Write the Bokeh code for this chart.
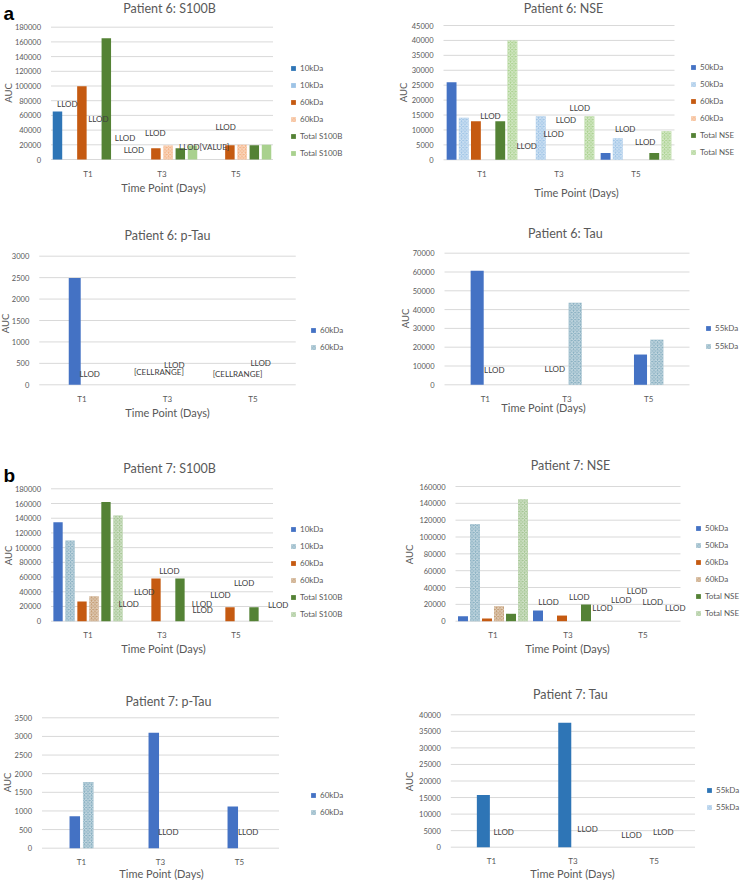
import math
from bokeh.plotting import figure
from bokeh.models import (ColumnDataSource, Range1d, FixedTicker, Legend, LegendItem,
                          LabelSet, Label, NumeralTickFormatter)
from bokeh.layouts import column, row
from bokeh.core.properties import value
from bokeh.embed import file_html
from bokeh.resources import INLINE

FONT = "Lato"
timepoints = ["T1", "T3", "T5"]

# ---------------- DATA ----------------
# Patient 6: S100B
p6_s100b_series = ["10kDa", "10kDa", "60kDa", "60kDa", "Total S100B", "Total S100B"]
p6_s100b_values = [[65300, 0, 0], [0, 0, 0], [99700, 15400, 19500],
                   [0, 19000, 20000], [165000, 15400, 19500], [0, 19000, 20000]]
p6_s100b_lab_text = ["LLOD", "LLOD", "LLOD", "LLOD", "LLOD", "LLOD[VALUE]", "LLOD"]
p6_s100b_lab_x = [-0.28, 0.14, 0.50, 0.62, 0.91, 1.57, 1.86]
p6_s100b_lab_y = [75800, 55300, 29000, 13200, 35800, 16700, 44000]

# Patient 6: NSE
p6_nse_series = ["50kDa", "50kDa", "60kDa", "60kDa", "Total NSE", "Total NSE"]
p6_nse_values = [[26000, 0, 2300], [14100, 14600, 7200], [12900, 0, 0],
                 [0, 0, 0], [12900, 0, 2300], [40000, 14600, 9600]]
p6_nse_lab_text = ["LLOD"] * 7
p6_nse_lab_x = [0.11, 0.58, 0.93, 1.09, 1.27, 1.86, 2.12]
p6_nse_lab_y = [14800, 4700, 8700, 13200, 17300, 10200, 6100]

# Patient 6: p-Tau
p6_ptau_series = ["60kDa", "60kDa"]
p6_ptau_values = [[2490, 0, 0], [0, 0, 0]]
p6_ptau_lab_text = ["LLOD", "[CELLRANGE]", "LLOD", "[CELLRANGE]", "LLOD"]
p6_ptau_lab_x = [0.09, 0.90, 1.08, 1.82, 2.09]
p6_ptau_lab_y = [256, 310, 457, 256, 513]

# Patient 6: Tau
p6_tau_series = ["55kDa", "55kDa"]
p6_tau_values = [[60700, 0, 16100], [0, 43600, 24000]]
p6_tau_lab_text = ["LLOD", "LLOD"]
p6_tau_lab_x = [0.11, 0.85]
p6_tau_lab_y = [8000, 8500]

# Patient 7: S100B
p7_s100b_series = ["10kDa", "10kDa", "60kDa", "60kDa", "Total S100B", "Total S100B"]
p7_s100b_values = [[134600, 0, 0], [109800, 0, 0], [26800, 58100, 19000],
                   [34000, 0, 0], [161900, 58100, 19000], [143800, 0, 0]]
p7_s100b_lab_text = ["LLOD"] * 8
p7_s100b_lab_x = [0.55, 0.76, 1.10, 1.54, 1.55, 1.79, 2.11, 2.57]
p7_s100b_lab_y = [23700, 39500, 67600, 23700, 15500, 35000, 51700, 21400]

# Patient 7: NSE
p7_nse_series = ["50kDa", "50kDa", "60kDa", "60kDa", "Total NSE", "Total NSE"]
p7_nse_values = [[5900, 12700, 0], [115400, 0, 0], [3200, 6700, 0],
                 [17800, 0, 0], [8800, 19800, 0], [145000, 0, 0]]
p7_nse_lab_text = ["LLOD"] * 7
p7_nse_lab_x = [0.74, 1.15, 1.46, 1.71, 1.92, 2.13, 2.43]
p7_nse_lab_y = [22500, 29300, 15900, 25700, 36400, 22500, 15900]

# Patient 7: p-Tau
p7_ptau_series = ["60kDa", "60kDa"]
p7_ptau_values = [[860, 3100, 1120], [1780, 0, 0]]
p7_ptau_lab_text = ["LLOD", "LLOD"]
p7_ptau_lab_x = [1.10, 2.11]
p7_ptau_lab_y = [427, 427]

# Patient 7: Tau
p7_tau_series = ["55kDa", "55kDa"]
p7_tau_values = [[15800, 37600, 0], [0, 0, 0]]
p7_tau_lab_text = ["LLOD"] * 4
p7_tau_lab_x = [0.15, 1.18, 1.72, 2.11]
p7_tau_lab_y = [4700, 5500, 3800, 4700]

# ---------------- STYLE ----------------
BLUE = "#4472C4"
BLUE2 = "#2E75B6"
LBLUE = "#9DC3E6"
ORANGE = "#C55A11"
PEACH = "#F4B183"
GREEN = "#548235"
LGREEN = "#A9D18E"
TEAL = "#86AEC0"
TAN = "#C29A70"
HGREEN = "#A2C490"
GRID = "#D9D9D9"
TXT = "#595959"


def make_panel(title, series, values, colors, hatched, ymax, ystep,
               lab_text, lab_x, lab_y, geo):
    fx, fy, W, H = geo["fig"]
    L, R, T, B = geo["plot"]
    s = (R - L) / 3.0
    sy = (B - T) / ymax
    x0 = -0.5 - (L - fx) / s
    x1 = -0.5 + (fx + W - L) / s
    y0 = -(fy + H - B) / sy
    y1 = ymax + (T - fy) / sy

    def dx(px):
        return -0.5 + (px - L) / s

    def dy(py):
        return (B - py) / sy

    p = figure(width=W, height=H, output_backend="svg", toolbar_location=None,
               x_range=Range1d(x0, x1), y_range=Range1d(y0, y1),
               min_border=0, title=None)
    p.outline_line_color = None
    p.background_fill_color = "white"
    p.border_fill_color = "white"
    p.xgrid.visible = False
    p.ygrid.visible = False

    ticks = list(range(0, ymax + 1, ystep))
    p.segment(x0=[-0.5] * len(ticks), x1=[2.5] * len(ticks), y0=ticks, y1=ticks,
              line_color=GRID, line_width=1)

    n = len(series)
    step = geo["step"]
    items = []
    for i, (name, vals) in enumerate(zip(series, values)):
        xs = [k + (i - (n - 1) / 2) * step for k in range(len(timepoints))]
        src = ColumnDataSource(dict(x=xs, top=vals))
        kw = dict(fill_color=colors[i], line_color=None)
        if hatched[i]:
            kw.update(hatch_pattern="diagonal_cross", hatch_color="white",
                      hatch_alpha=0.55, hatch_scale=3.5, hatch_weight=1)
        r = p.vbar(x="x", top="top", bottom=0, width=geo["bw"], source=src, **kw)
        items.append(LegendItem(label=name, renderers=[r]))

    lab_src = ColumnDataSource(dict(x=lab_x, y=lab_y, text=lab_text))
    p.add_layout(LabelSet(x="x", y="y", text="text", source=lab_src,
                          text_align="center", text_baseline="middle",
                          text_font=value(FONT), text_font_size=value("8px"),
                          text_color=value("#404040")))

    gx, gbottom = geo["leg"]
    leg = Legend(items=items, location=(gx - fx, fy + H - gbottom),
                 orientation="vertical", border_line_color=None,
                 background_fill_alpha=0, padding=0, margin=0,
                 spacing=geo.get("spacing", 6), glyph_width=6, glyph_height=6,
                 label_height=11, label_standoff=4,
                 label_text_font=FONT, label_text_font_size="8px",
                 label_text_color=TXT)
    p.add_layout(leg, "center")

    xa = p.xaxis[0]
    xa.fixed_location = 0
    xa.ticker = FixedTicker(ticks=[0, 1, 2])
    xa.major_label_overrides = {0: timepoints[0], 1: timepoints[1], 2: timepoints[2]}
    xa.axis_line_color = None
    xa.major_tick_line_color = None
    xa.minor_tick_line_color = None
    xa.major_tick_out = 0
    xa.major_tick_in = 0
    xa.major_label_text_font = FONT
    xa.major_label_text_font_size = "8px"
    xa.major_label_text_color = TXT
    xa.major_label_standoff = geo.get("xstand", 9)

    ya = p.yaxis[0]
    ya.fixed_location = -0.5
    ya.ticker = FixedTicker(ticks=ticks)
    ya.formatter = NumeralTickFormatter(format="0")
    ya.axis_line_color = None
    ya.major_tick_line_color = None
    ya.minor_tick_line_color = None
    ya.major_tick_out = 0
    ya.major_tick_in = 0
    ya.major_label_text_font = FONT
    ya.major_label_text_font_size = "7.5px"
    ya.major_label_text_color = TXT
    ya.major_label_standoff = geo.get("ystand", 10)

    def lab(pos, text, size, angle=0.0, bold=False, font=FONT, color=TXT,
            align="center", baseline="middle"):
        px, py = pos
        p.add_layout(Label(x=dx(px), y=dy(py), text=text, text_align=align,
                           text_baseline=baseline, angle=angle, text_font=font,
                           text_font_size=size, text_color=color,
                           text_font_style="bold" if bold else "normal"))

    lab(geo["title"], title, "12.5px")
    lab(geo["xlabel"], "Time Point (Days)", "11px")
    lab(geo["ylabel"], "AUC", "9.5px", angle=math.pi / 2)
    if geo.get("corner"):
        txt, cx, cy = geo["corner"]
        lab((cx, cy), txt, "19px", bold=True, font="Liberation Sans",
            color="black", align="left", baseline="alphabetic")
    return p


six_col = [BLUE2, LBLUE, ORANGE, PEACH, GREEN, LGREEN]
nse6_col = [BLUE, LBLUE, ORANGE, PEACH, GREEN, LGREEN]
nse6_hat = [False, True, False, True, False, True]
p7_col = [BLUE, TEAL, ORANGE, TAN, GREEN, HGREEN]
p7_hat = [False, True, False, True, False, True]

p1 = make_panel("Patient 6: S100B", p6_s100b_series, p6_s100b_values, six_col,
                [False, False, False, True, False, False], 180000, 20000,
                p6_s100b_lab_text, p6_s100b_lab_x, p6_s100b_lab_y,
                dict(fig=(0, 0, 370, 200), plot=(50.5, 272.5, 26.7, 159.0),
                     step=0.165, bw=0.128, leg=(290, 158.5),
                     title=(169, 8), xlabel=(163, 187), ylabel=(7.5, 92.5),
                     corner=("a", 3, 13)))
p2 = make_panel("Patient 6: NSE", p6_nse_series, p6_nse_values, nse6_col, nse6_hat,
                45000, 5000, p6_nse_lab_text, p6_nse_lab_x, p6_nse_lab_y,
                dict(fig=(370, 0, 370, 200), plot=(443, 674, 25.0, 159.3),
                     step=0.158, bw=0.128, leg=(690, 157.5),
                     title=(563, 8), xlabel=(576, 192), ylabel=(403, 92)))
p3 = make_panel("Patient 6: p-Tau", p6_ptau_series, p6_ptau_values, [BLUE, TEAL],
                [False, True], 3000, 500, p6_ptau_lab_text, p6_ptau_lab_x, p6_ptau_lab_y,
                dict(fig=(0, 200, 370, 220), plot=(38.75, 295.25, 255.7, 384.3),
                     step=0.17, bw=0.14, leg=(310, 352.5),
                     title=(167, 235), xlabel=(167, 412), ylabel=(5, 323)))
p4 = make_panel("Patient 6: Tau", p6_tau_series, p6_tau_values, [BLUE, TEAL],
                [False, True], 70000, 10000, p6_tau_lab_text, p6_tau_lab_x, p6_tau_lab_y,
                dict(fig=(370, 200, 370, 220), plot=(444, 689, 252.7, 384.3),
                     step=0.2, bw=0.16, leg=(705, 351.5), spacing=7,
                     title=(565, 233), xlabel=(543, 407), ylabel=(405, 318)))
p5 = make_panel("Patient 7: S100B", p7_s100b_series, p7_s100b_values, p7_col, p7_hat,
                180000, 20000, p7_s100b_lab_text, p7_s100b_lab_x, p7_s100b_lab_y,
                dict(fig=(0, 420, 370, 240), plot=(50.5, 272.5, 488.3, 620.7),
                     step=0.162, bw=0.126, leg=(290, 619.5),
                     title=(169, 468), xlabel=(163, 648), ylabel=(7.5, 555),
                     corner=("b", 3, 475)))
p6 = make_panel("Patient 7: NSE", p7_nse_series, p7_nse_values, p7_col, p7_hat,
                160000, 20000, p7_nse_lab_text, p7_nse_lab_x, p7_nse_lab_y,
                dict(fig=(370, 420, 370, 240), plot=(455, 680, 486, 620.7),
                     step=0.16, bw=0.133, leg=(695, 618.5),
                     title=(570, 465), xlabel=(567, 648), ylabel=(409, 554)))
p7 = make_panel("Patient 7: p-Tau", p7_ptau_series, p7_ptau_values, [BLUE, TEAL],
                [False, True], 3500, 500, p7_ptau_lab_text, p7_ptau_lab_x, p7_ptau_lab_y,
                dict(fig=(0, 660, 370, 221), plot=(41.5, 278.5, 717.3, 847.7),
                     step=0.17, bw=0.133, leg=(310, 817.5),
                     title=(168, 701), xlabel=(161, 873), ylabel=(7, 782)))
p8 = make_panel("Patient 7: Tau", p7_tau_series, p7_tau_values, [BLUE2, LBLUE],
                [False, True], 40000, 5000, p7_tau_lab_text, p7_tau_lab_x, p7_tau_lab_y,
                dict(fig=(370, 660, 370, 221), plot=(450.3, 694.5, 714.3, 846.7),
                     step=0.2, bw=0.16, leg=(706, 812.5),
                     title=(570, 694), xlabel=(572, 873), ylabel=(409, 781)))

layout = column(row(p1, p2), row(p3, p4), row(p5, p6), row(p7, p8))
open("out.html", "w").write(file_html(layout, INLINE))
